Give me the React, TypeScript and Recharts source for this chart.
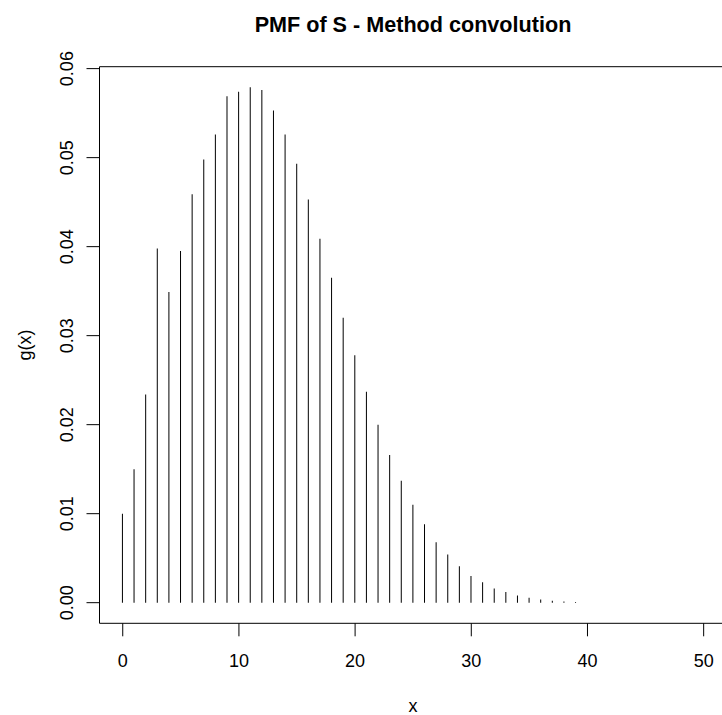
import { BarChart, Bar, XAxis, YAxis, ReferenceArea, Label } from "recharts";

// values of the PMF g(x) for x = 0..39
const xs = [
  0, 1, 2, 3, 4, 5, 6, 7, 8, 9, 10, 11, 12, 13, 14, 15, 16, 17, 18, 19,
  20, 21, 22, 23, 24, 25, 26, 27, 28, 29, 30, 31, 32, 33, 34, 35, 36, 37, 38, 39,
];
const gx = [
  0.0100, 0.0150, 0.0234, 0.0398, 0.0349, 0.0395, 0.0459, 0.0498, 0.0526, 0.0569,
  0.0574, 0.0579, 0.0576, 0.0553, 0.0526, 0.0493, 0.0453, 0.0409, 0.0365, 0.0320,
  0.0278, 0.0237, 0.0200, 0.0166, 0.0137, 0.0110, 0.0088, 0.0068, 0.0054, 0.0041,
  0.0030, 0.0023, 0.0016, 0.0012, 0.0008, 0.00056, 0.00036, 0.00022, 0.00014, 0.00009,
];
const xTicks = [0, 10, 20, 30, 40, 50];
const yTicks = [0, 0.01, 0.02, 0.03, 0.04, 0.05, 0.06];

const data = xs.map((x, i) => ({ x, g: gx[i] }));

// R style 4% padding on the ranges
const xMin = -2;
const xMax = 52;
const gMax = Math.max(...gx);
const yMin = -0.04 * gMax;
const yMax = gMax * 1.04;

const FONT = "'Liberation Sans', Arial, Helvetica, sans-serif";

function XTick(props: any) {
  const { x, y, payload } = props;
  return (
    <text x={x} y={y + 22} dy="0.36em" textAnchor="middle" fontSize={18} fontFamily={FONT} fill="#000">
      {payload.value}
    </text>
  );
}

function YTick(props: any) {
  const { x, y, payload } = props;
  return (
    <text
      transform={`translate(${x - 17.5},${y}) rotate(-90)`}
      dy="0.36em"
      textAnchor="middle"
      fontSize={18}
      fontFamily={FONT}
      fill="#000"
    >
      {Number(payload.value).toFixed(2)}
    </text>
  );
}

export default function App() {
  return (
    <div style={{ position: "absolute", left: 0, top: 0, width: 722, height: 715, overflow: "hidden", background: "#fff" }}>
      <BarChart width={730} height={715} data={data} margin={{ top: 66.7, right: 3.1, bottom: 0, left: 0 }}>
        <XAxis
          dataKey="x"
          type="number"
          domain={[xMin, xMax]}
          ticks={xTicks}
          allowDataOverflow
          axisLine={false}
          tickSize={13}
          tickLine={{ stroke: "#000" }}
          tick={<XTick />}
          height={91.7}
          interval={0}
        >
          <Label
            content={() => (
              <text x={413} y={706} dy="0.36em" textAnchor="middle" fontSize={18} fontFamily={FONT} fill="#000">
                x
              </text>
            )}
          />
          <Label
            content={() => (
              <text x={413} y={24} dy="0.36em" textAnchor="middle" fontSize={21.6} fontWeight="bold" fontFamily={FONT} fill="#000">
                PMF of S - Method convolution
              </text>
            )}
          />
        </XAxis>
        <YAxis
          type="number"
          domain={[yMin, yMax]}
          ticks={yTicks}
          allowDataOverflow
          axisLine={false}
          tickSize={13}
          tickLine={{ stroke: "#000" }}
          tick={<YTick />}
          width={99.5}
          interval={0}
        >
          <Label
            content={() => (
              <text
                transform="translate(25,345) rotate(-90)"
                dy="0.36em"
                textAnchor="middle"
                fontSize={18}
                fontFamily={FONT}
                fill="#000"
              >
                g(x)
              </text>
            )}
          />
        </YAxis>
        <ReferenceArea
          x1={xMin}
          x2={xMax}
          y1={yMin}
          y2={yMax}
          fill="none"
          fillOpacity={0}
          stroke="#000"
          strokeWidth={1}
        />
        <Bar dataKey="g" fill="#000" barSize={1} isAnimationActive={false} />
      </BarChart>
    </div>
  );
}
